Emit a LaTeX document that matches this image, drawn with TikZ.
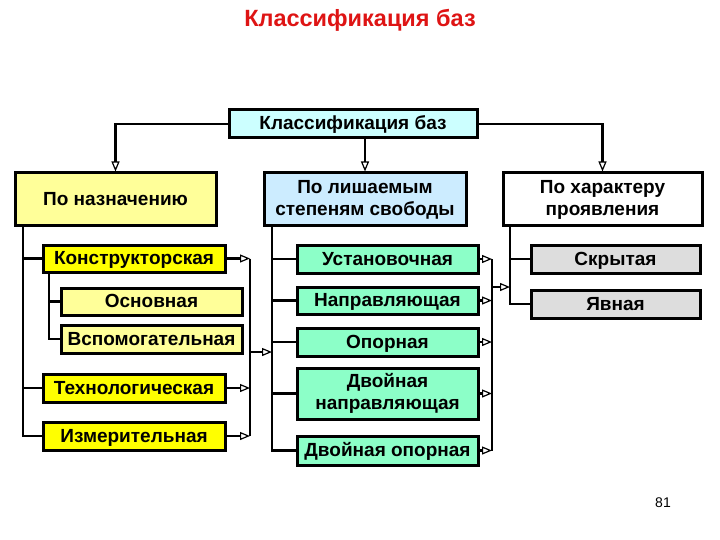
\documentclass[tikz,border=0pt]{standalone}
\usepackage{fontspec}
\setmainfont{Liberation Sans}
\usetikzlibrary{arrows.meta,positioning}

\definecolor{titlered}{RGB}{222,20,20}
\definecolor{cyanlt}{RGB}{204,255,255}
\definecolor{yellowlt}{RGB}{255,255,153}
\definecolor{yellowdk}{RGB}{255,255,0}
\definecolor{bluelt}{RGB}{204,236,255}
\definecolor{mint}{RGB}{140,255,200}
\definecolor{greylt}{RGB}{221,221,221}

\tikzset{
  box/.style={draw, line width=3pt, inner sep=0pt, align=center,
    text height=14pt, text depth=2pt,
    font=\bfseries\fontsize{19}{22}\selectfont},
  twoline/.style={text height={}, text depth={}},
  conn/.style={line width=2.2pt},
  arr/.style={conn, -{Triangle[open, length=10pt, width=8pt, line width=1.2pt]}}
}

\begin{document}
\begin{tikzpicture}[x=1pt, y=-1pt]
                    \useasboundingbox (0,0) rectangle (720,540);
                    % title
                    \node[text=titlered, font=\bfseries\fontsize{23.5}{28}\selectfont] (title) at (360,20) {Классификация баз};
                    \node[font=\fontsize{14}{16}\selectfont] (page) at (663,503) {81};
                    % top levels
                    \node[box, fill=cyanlt, minimum width=248pt, minimum height=28pt] (top) at (353,124) {Классификация баз};
                    \node[box, fill=yellowlt, minimum width=201pt, minimum height=53pt] (naz) at (115.5,199.5) {По назначению};
                    \node[box, twoline, fill=bluelt, minimum width=202pt, minimum height=53pt] (lish) at (365,199.5) {По лишаемым\\степеням свободы};
                    \node[box, twoline, fill=white, minimum width=199pt, minimum height=53pt] (har) at (602.5,199.5) {По характеру\\проявления};
                    % left column
                    \node[box, fill=yellowdk, minimum width=182pt, minimum height=27pt] (konstr) at (134,258.5) {Конструкторская};
                    \node[box, fill=yellowlt, minimum width=181pt, minimum height=27pt] (osn) at (151.5,301.5) {Основная};
                    \node[box, fill=yellowlt, minimum width=181pt, minimum height=28pt] (vspom) at (151.5,339) {Вспомогательная};
                    \node[box, fill=yellowdk, minimum width=182pt, minimum height=28pt] (tehn) at (134,388) {Технологическая};
                    \node[box, fill=yellowdk, minimum width=182pt, minimum height=28pt] (izm) at (134,436) {Измерительная};
                    % middle column
                    \node[box, fill=mint, minimum width=181pt, minimum height=28pt] (ust) at (387.5,259) {Установочная};
                    \node[box, fill=mint, minimum width=181pt, minimum height=27pt] (napr) at (387.5,300.5) {Направляющая};
                    \node[box, fill=mint, minimum width=181pt, minimum height=28pt] (opor) at (387.5,342) {Опорная};
                    \node[box, twoline, fill=mint, minimum width=181pt, minimum height=51pt] (dvnapr) at (387.5,393.5) {Двойная\\направляющая};
                    \node[box, fill=mint, minimum width=181pt, minimum height=29pt] (dvopor) at (387.5,450.5) {Двойная опорная};
                    % right column
                    \node[box, fill=greylt, minimum width=169pt, minimum height=28pt] (skr) at (615.5,259) {Скрытая};
                    \node[box, fill=greylt, minimum width=169pt, minimum height=28pt] (yav) at (615.5,304) {Явная};
                    % trunks and collectors
                    \coordinate (lt) at (23,226);
                    \coordinate (kt) at (49,272);
                    \coordinate (lc) at (250,259);
                    \coordinate (lcin) at (250,352);
                    \coordinate (mt) at (272,226);
                    \coordinate (mc) at (492,259);
                    \coordinate (mcin) at (492,287);
                    \coordinate (rt) at (510,226);
                    % from the top box
                    \draw[arr] (top.west) -| (naz.north);
                    \draw[arr] (top.south -| lish.north) -- (lish.north);
                    \draw[arr] (top.east) -| (har.north);
                    % left column
                    \draw[conn] (lt) |- (izm.west);
                    \draw[conn] (lt |- konstr.west) -- (konstr.west);
                    \draw[conn] (lt |- tehn.west) -- (tehn.west);
                    \draw[conn] (kt) |- (vspom.west);
                    \draw[conn] (kt |- osn.west) -- (osn.west);
                    \draw[arr] (konstr.east) -- (konstr.east -| lc);
                    \draw[arr] (tehn.east) -- (tehn.east -| lc);
                    \draw[arr] (izm.east) -- (izm.east -| lc);
                    \draw[conn] (konstr.east -| lc) -- (izm.east -| lc);
                    \draw[arr] (lcin) -- (lcin -| mt);
                    % middle column
                    \draw[conn] (mt) |- (dvopor.west);
                    \foreach \n in {ust, napr, opor, dvnapr}
                      \draw[conn] (mt |- \n.west) -- (\n.west);
                    \foreach \n in {ust, napr, opor, dvnapr, dvopor}
                      \draw[arr] (\n.east) -- (\n.east -| mc);
                    \draw[conn] (ust.east -| mc) -- (dvopor.east -| mc);
                    \draw[arr] (mcin) -- (mcin -| rt);
                    % right column
                    \draw[conn] (rt) |- (yav.west);
                    \draw[conn] (rt |- skr.west) -- (skr.west);
                  \end{tikzpicture}
\end{document}
